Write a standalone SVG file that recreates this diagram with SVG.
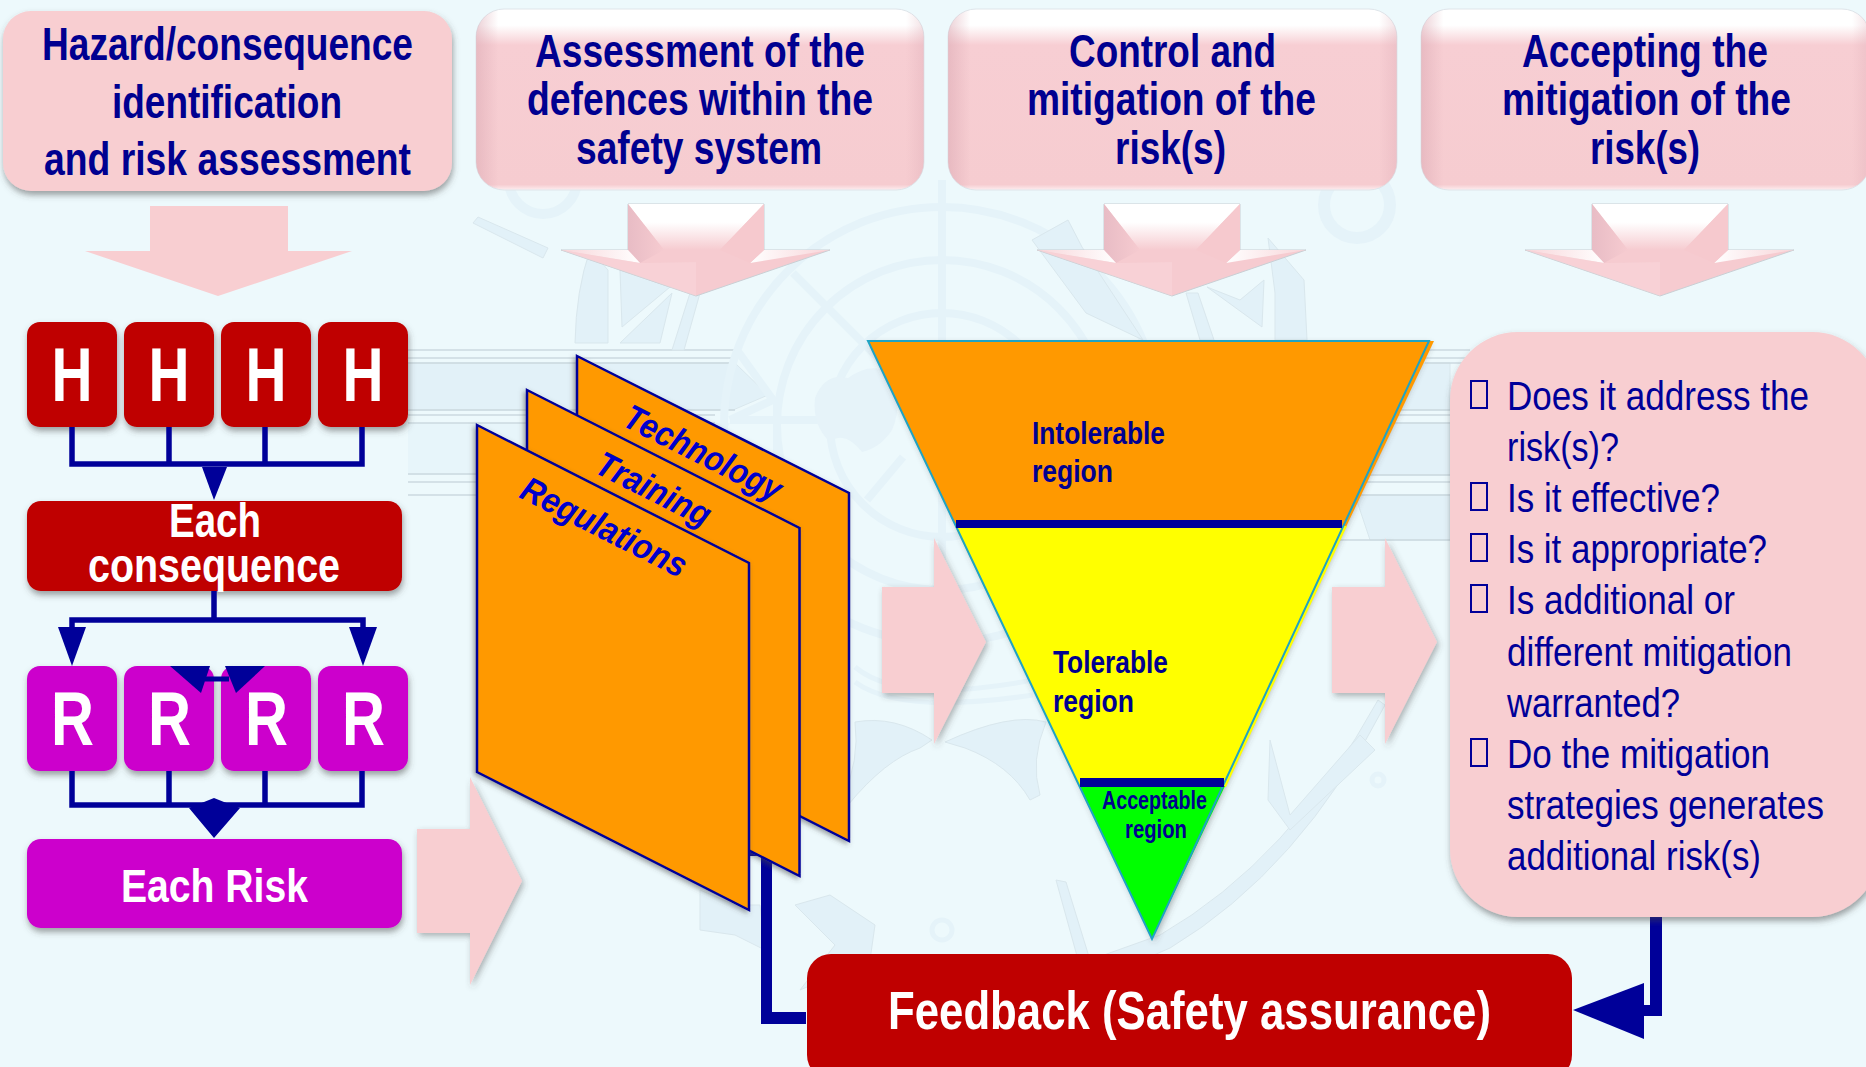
<svg xmlns="http://www.w3.org/2000/svg" xmlns:xlink="http://www.w3.org/1999/xlink" width="1866" height="1067" viewBox="0 0 1866 1067">
<style>
text{font-family:"Liberation Sans",Arial,sans-serif}
.head{font-weight:700;font-size:46px;fill:#000090}
.wt{font-weight:700;fill:#fff}
.big{font-size:76px}
.reg{font-weight:700;fill:#000090}
.page{fill:#ff9900;stroke:#000099;stroke-width:2.5}
.pl{font-weight:700;font-style:italic;font-size:35px;fill:#0000cc}
.li{font-size:41px;fill:#000099}
.tofu{fill:none;stroke:#000099;stroke-width:2}
.line{fill:none;stroke:#000099;stroke-width:5.5}
.head-fill{fill:#000099}
.pink{fill:#f8ced1}
.wm{fill:#e2f1f8;stroke:#d9e7ed;stroke-width:1}
.wmr{fill:none;stroke:#e5f3f9;stroke-width:8}
.wml{stroke:#cbd9e0;stroke-width:1.3;fill:none}
</style>
<defs>
<filter id="sh" x="-10%" y="-10%" width="120%" height="125%"><feDropShadow dx="1" dy="4" stdDeviation="3" flood-color="#444" flood-opacity=".5"/></filter>
<filter id="shp" x="-10%" y="-10%" width="120%" height="120%"><feDropShadow dx="-2" dy="2" stdDeviation="2.5" flood-color="#444" flood-opacity=".5"/></filter>
<filter id="shr" x="-10%" y="-10%" width="120%" height="120%"><feDropShadow dx="2" dy="3" stdDeviation="3" flood-color="#444" flood-opacity=".4"/></filter>
<linearGradient id="top" x1="0" y1="0" x2="0" y2="1"><stop offset="0" stop-color="#fff"/><stop offset=".09" stop-color="#fff"/><stop offset=".2" stop-color="#f7ced3"/><stop offset=".97" stop-color="#f6ccd0"/><stop offset="1" stop-color="#fdeef0"/></linearGradient>
<linearGradient id="side" x1="0" y1="0" x2="1" y2="0"><stop offset="0" stop-color="#dcaab4" stop-opacity=".55"/><stop offset=".05" stop-color="#dcaab4" stop-opacity="0"/><stop offset=".96" stop-color="#dcaab4" stop-opacity="0"/><stop offset="1" stop-color="#dcaab4" stop-opacity=".35"/></linearGradient>
<linearGradient id="atop" x1="0" y1="0" x2="0" y2="1"><stop offset="0" stop-color="#fff"/><stop offset=".4" stop-color="#fff"/><stop offset="1" stop-color="#f6cbd0"/></linearGradient>
<linearGradient id="aleft" x1="0" y1="0" x2="1" y2="0"><stop offset="0" stop-color="#e8bcc5"/><stop offset="1" stop-color="#f6cbd0"/></linearGradient>
<linearGradient id="awl" x1="0" y1="0" x2="1" y2="0"><stop offset="0" stop-color="#f8d5d9"/><stop offset="1" stop-color="#fff"/></linearGradient>
<linearGradient id="awr" x1="1" y1="0" x2="0" y2="0"><stop offset="0" stop-color="#f8d5d9"/><stop offset="1" stop-color="#fff"/></linearGradient>
<g id="bevel-arrow">
<path d="M0,204H136V250H202L68,296L-67,250H0Z" fill="#f6cbd0" stroke="#c9cfd4" stroke-width="1"/>
<path d="M0,204H136L92,250H36Z" fill="url(#atop)"/>
<path d="M0,204L36,250L12,263L0,250Z" fill="url(#aleft)"/>
<path d="M-67,250H0L12,263Z" fill="url(#awl)"/>
<path d="M202,250H136L122,263Z" fill="url(#awr)"/>
<path d="M136,204L92,250L122,263L136,250Z" fill="#f6c9ce"/>
<path d="M68,296V262L12,263L-67,250Z" fill="#f9d8dc" opacity=".5"/>
</g>
</defs>
<rect width="1866" height="1067" fill="#edf9fc"/>
<g id="watermark">
<path class="wm" d="M408,363H735L768,395L733,410H408Z"/>
<path d="M408,423H730L700,475H408Z" fill="#e7f5fa"/>
<path class="wm" d="M1380,363H1450V410H1380ZM1390,423H1450V475H1340ZM1355,495H1450V540H1370Z"/>
<path class="wml" d="M408,350H737M408,358H735M408,363H735M408,410H735M408,415H715M408,423H715M408,474H477M408,482H477M408,495H477M1420,350H1470M1425,358H1470M1425,363H1470M1395,410H1470M1390,415H1470M1390,423H1470M1335,475H1470M1335,482H1470M1340,495H1470M1330,540H1470"/>
<circle class="wmr" cx="942" cy="425" r="218"/>
<circle class="wmr" cx="942" cy="425" r="165"/>
<circle class="wmr" cx="942" cy="425" r="112"/>
<path class="wmr" d="M942,180V560M793,273L900,380M867,500L903,457M737,350L773,400L730,420M730,420H830M777,400V470"/>
<path d="M815,398Q825,372 848,378Q870,362 888,372Q905,400 892,430Q880,448 862,452Q845,430 830,442Q812,425 815,398Z" fill="#e6f3f9"/>
<path class="wm" d="M1032,240L1068,220L1082,247L1143,340L1086,313Z"/>
<path class="wm" d="M1275,340H1307L1304,280L1268,238L1275,293Z"/>
<path class="wm" d="M1207,287L1262,327L1264,280L1240,300Z"/>
<path class="wm" d="M1186,293L1198,293L1214,340H1200Z"/>
<path class="wm" d="M575,343H608V270L590,250Q576,290 575,343Z"/>
<path class="wm" d="M620,343H660L672,293Z"/>
<path class="wm" d="M620,270L622,327L670,287Z"/>
<path class="wm" d="M672,350L690,293H700L684,350Z"/>
<path class="wm" d="M473,223L478,217L548,248L543,258Z"/>
<circle class="wmr" cx="543" cy="180" r="34" style="stroke-width:10"/>
<circle class="wmr" cx="1357" cy="205" r="33" style="stroke-width:12"/>
<path class="wm" d="M855,722Q895,715 932,740L920,748Q885,760 848,805L842,800Q860,760 855,722Z"/>
<path class="wm" d="M1046,722Q1010,712 945,742L965,748Q1010,765 1030,800L1040,795Q1030,760 1046,722Z"/>
<path class="wmr" d="M855,667Q900,705 1033,680M855,682Q900,715 1033,695" style="stroke-width:5"/>
<path class="wm" d="M1056,880L1066,882L1090,960L1160,935Q1290,860 1378,700L1385,705Q1300,870 1170,948L1085,985Z"/>
<path class="wm" d="M1270,740L1290,815L1360,735L1375,750L1290,830L1268,800Z"/>
<path class="wm" d="M795,905L830,895L875,925L870,960L800,990L835,945Z"/>
<path class="wm" d="M700,890L735,905L760,905L765,950L735,935L700,930Z"/>
<circle class="wmr" cx="942" cy="930" r="10" style="stroke-width:5"/>
<circle class="wmr" cx="1378" cy="780" r="6" style="stroke-width:5"/>
</g>
<g id="hazard-box"><rect class="pink" x="3" y="11" width="449" height="180" rx="28" filter="url(#sh)"/>
<text class="head" x="42" y="60" textLength="371" lengthAdjust="spacingAndGlyphs">Hazard/consequence</text>
<text class="head" x="112" y="118" textLength="230" lengthAdjust="spacingAndGlyphs">identification</text>
<text class="head" x="44" y="175" textLength="367" lengthAdjust="spacingAndGlyphs">and risk assessment</text></g>
<g id="assess-box"><rect x="476" y="9" width="448" height="181" rx="28" fill="url(#top)" stroke="#dfe5ea"/><rect x="476" y="9" width="448" height="181" rx="28" fill="url(#side)"/>
<text class="head" x="535" y="67" textLength="330" lengthAdjust="spacingAndGlyphs">Assessment of the</text>
<text class="head" x="527" y="115" textLength="346" lengthAdjust="spacingAndGlyphs">defences within the</text>
<text class="head" x="576" y="164" textLength="246" lengthAdjust="spacingAndGlyphs">safety system</text></g>
<g id="control-box"><rect x="948" y="9" width="449" height="181" rx="28" fill="url(#top)" stroke="#dfe5ea"/><rect x="948" y="9" width="449" height="181" rx="28" fill="url(#side)"/>
<text class="head" x="1069" y="67" textLength="207" lengthAdjust="spacingAndGlyphs">Control and</text>
<text class="head" x="1027" y="115" textLength="289" lengthAdjust="spacingAndGlyphs">mitigation of the</text>
<text class="head" x="1115" y="164" textLength="111" lengthAdjust="spacingAndGlyphs">risk(s)</text></g>
<g id="accept-box"><rect x="1421" y="9" width="449" height="181" rx="28" fill="url(#top)" stroke="#dfe5ea"/><rect x="1421" y="9" width="449" height="181" rx="28" fill="url(#side)"/>
<text class="head" x="1522" y="67" textLength="246" lengthAdjust="spacingAndGlyphs">Accepting the</text>
<text class="head" x="1502" y="115" textLength="289" lengthAdjust="spacingAndGlyphs">mitigation of the</text>
<text class="head" x="1590" y="164" textLength="110" lengthAdjust="spacingAndGlyphs">risk(s)</text></g>
<g id="down-arrows">
<path class="pink" d="M150,206H288V251H352L218,296L85,251H150Z"/>
<use xlink:href="#bevel-arrow" href="#bevel-arrow" x="628"/>
<use xlink:href="#bevel-arrow" href="#bevel-arrow" x="1104"/>
<use xlink:href="#bevel-arrow" href="#bevel-arrow" x="1592"/>
</g>
<g id="right-arrows">
<path class="pink" d="M417,829H470V777L522,881L470,985V933H417Z" filter="url(#shr)"/>
<path class="pink" d="M882,587H934V538L986,642L934,744V693H882Z" filter="url(#shr)"/>
<path class="pink" d="M1332,587H1385V538L1437,642L1385,744V693H1332Z" filter="url(#shr)"/>
</g>
<g id="hazards" filter="url(#sh)" fill="#bf0000">
<g id="h1"><rect x="27" y="322" width="90" height="105" rx="13"/></g>
<g id="h2"><rect x="124" y="322" width="90" height="105" rx="13"/></g>
<g id="h3"><rect x="221" y="322" width="90" height="105" rx="13"/></g>
<g id="h4"><rect x="318" y="322" width="90" height="105" rx="13"/></g>
</g>
<g id="hazard-labels">
<text class="wt big" x="51.500" y="401" textLength="41" lengthAdjust="spacingAndGlyphs">H</text>
<text class="wt big" x="148.500" y="401" textLength="41" lengthAdjust="spacingAndGlyphs">H</text>
<text class="wt big" x="245.500" y="401" textLength="41" lengthAdjust="spacingAndGlyphs">H</text>
<text class="wt big" x="342.500" y="401" textLength="41" lengthAdjust="spacingAndGlyphs">H</text>
</g>
<g id="consequence"><rect x="27" y="501" width="375" height="90" rx="14" fill="#bf0000" filter="url(#sh)"/>
<text class="wt" font-size="49" x="169" y="537" textLength="92" lengthAdjust="spacingAndGlyphs">Each</text>
<text class="wt" font-size="49" x="88" y="582" textLength="252" lengthAdjust="spacingAndGlyphs">consequence</text></g>
<g id="risks" filter="url(#sh)" fill="#cc00cc">
<g id="r1"><rect x="27" y="666" width="90" height="105" rx="13"/></g>
<g id="r2"><rect x="124" y="666" width="90" height="105" rx="13"/></g>
<g id="r3"><rect x="221" y="666" width="90" height="105" rx="13"/></g>
<g id="r4"><rect x="318" y="666" width="90" height="105" rx="13"/></g>
</g>
<g id="risk-labels">
<text class="wt big" x="51" y="745" textLength="43" lengthAdjust="spacingAndGlyphs">R</text>
<text class="wt big" x="148" y="745" textLength="43" lengthAdjust="spacingAndGlyphs">R</text>
<text class="wt big" x="245" y="745" textLength="43" lengthAdjust="spacingAndGlyphs">R</text>
<text class="wt big" x="342" y="745" textLength="43" lengthAdjust="spacingAndGlyphs">R</text>
</g>
<g id="each-risk"><rect x="27" y="839" width="375" height="89" rx="14" fill="#cc00cc" filter="url(#sh)"/>
<text class="wt" font-size="47" x="121" y="902" textLength="187" lengthAdjust="spacingAndGlyphs">Each Risk</text></g>
<g id="connectors">
<path class="line" d="M72,427V464H362V427M169,427V464M265,427V464"/>
<path class="head-fill" d="M202,467H227L214,500Z"/>
<path class="line" d="M214,591V620M72,628V620H363V628"/>
<path class="head-fill" d="M58,627H86L72,666Z"/>
<path class="head-fill" d="M349,627H377L363,666Z"/>
<path class="head-fill" d="M170,666H210L201,693Z"/>
<path class="head-fill" d="M225,666H265L236,693Z"/>
<path class="head-fill" d="M205,676.500H229V681.500H205Z"/>
<path class="line" d="M72,771V805H362V771M169,771V805M265,771V805"/>
<path class="head-fill" d="M189,808L204,802L214,798L224,802L240,808L214,838Z"/>
<path class="head-fill" d="M749,850H772V1012H806V1024H761V856H749Z"/>
<path class="head-fill" d="M1650,916H1662V1016H1644V1005H1650Z"/>
<path class="head-fill" d="M1644,983V1039L1573,1010Z"/>
</g>
<g id="pages">
<g id="technology"><path class="page" d="M577,356L849,493V841L577,703Z" filter="url(#shp)"/>
<text class="pl" transform="translate(621,425) rotate(26.700)" textLength="172" lengthAdjust="spacingAndGlyphs">Technology</text></g>
<g id="training"><path class="page" d="M527,390L799.500,528V876L527,738Z" filter="url(#shp)"/>
<text class="pl" transform="translate(593,472) rotate(26.700)" textLength="124" lengthAdjust="spacingAndGlyphs">Training</text></g>
<g id="regulations"><path class="page" d="M477,425L749,563V910L477,772Z" filter="url(#shp)"/>
<text class="pl" transform="translate(518,497) rotate(26.700)" textLength="181" lengthAdjust="spacingAndGlyphs">Regulations</text></g>
</g>
<g id="risk-triangle">
<path d="M868,341H1429L1152,939Z" fill="#ff9900" filter="url(#shr)"/>
<path d="M868,341H1434L1346,527H956Z" fill="#ff9900"/>
<path d="M955,526H1347L1226,787H1080Z" fill="#ffff00"/>
<path d="M1080,786H1225L1152,939Z" fill="#00ff00"/>
<path d="M868,341H1429L1152,939Z" fill="none" stroke="#1fa3c4" stroke-width="2"/>
<rect x="956" y="520" width="386" height="8" fill="#000099"/>
<rect x="1080" y="778" width="144" height="9" fill="#000099"/>
<text class="reg" font-size="32" x="1032" y="444" textLength="133" lengthAdjust="spacingAndGlyphs">Intolerable</text>
<text class="reg" font-size="32" x="1032" y="482" textLength="81" lengthAdjust="spacingAndGlyphs">region</text>
<text class="reg" font-size="32" x="1053" y="673" textLength="115" lengthAdjust="spacingAndGlyphs">Tolerable</text>
<text class="reg" font-size="32" x="1053" y="712" textLength="81" lengthAdjust="spacingAndGlyphs">region</text>
<text class="reg" font-size="25" x="1102" y="809" textLength="105" lengthAdjust="spacingAndGlyphs">Acceptable</text>
<text class="reg" font-size="25" x="1125" y="838" textLength="62" lengthAdjust="spacingAndGlyphs">region</text>
</g>
<g id="checklist"><rect class="pink" x="1450" y="332" width="430" height="585" rx="68" filter="url(#sh)"/>
<rect class="tofu" x="1471" y="381" width="16" height="27"/>
<rect class="tofu" x="1471" y="483" width="16" height="27"/>
<rect class="tofu" x="1471" y="534" width="16" height="27"/>
<rect class="tofu" x="1471" y="585" width="16" height="27"/>
<rect class="tofu" x="1471" y="739" width="16" height="27"/>
<text class="li" x="1507" y="410" textLength="302" lengthAdjust="spacingAndGlyphs">Does it address the</text>
<text class="li" x="1507" y="461" textLength="112" lengthAdjust="spacingAndGlyphs">risk(s)?</text>
<text class="li" x="1507" y="512" textLength="213" lengthAdjust="spacingAndGlyphs">Is it effective?</text>
<text class="li" x="1507" y="563" textLength="260" lengthAdjust="spacingAndGlyphs">Is it appropriate?</text>
<text class="li" x="1507" y="614" textLength="228" lengthAdjust="spacingAndGlyphs">Is additional or</text>
<text class="li" x="1507" y="666" textLength="285" lengthAdjust="spacingAndGlyphs">different mitigation</text>
<text class="li" x="1507" y="717" textLength="173" lengthAdjust="spacingAndGlyphs">warranted?</text>
<text class="li" x="1507" y="768" textLength="263" lengthAdjust="spacingAndGlyphs">Do the mitigation</text>
<text class="li" x="1507" y="819" textLength="317" lengthAdjust="spacingAndGlyphs">strategies generates</text>
<text class="li" x="1507" y="870" textLength="254" lengthAdjust="spacingAndGlyphs">additional risk(s)</text></g>
<g id="feedback"><rect x="807" y="954" width="765" height="125" rx="24" fill="#bf0000"/>
<text class="wt" font-size="53" x="888" y="1029" textLength="603" lengthAdjust="spacingAndGlyphs">Feedback (Safety assurance)</text></g>
</svg>
